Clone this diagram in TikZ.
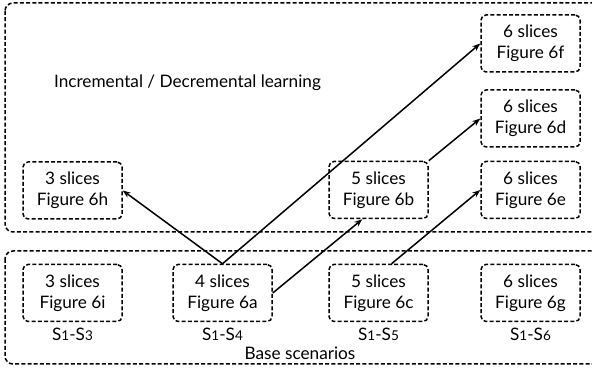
\documentclass[tikz,border=0pt]{standalone}
\usepackage{fontspec}
\setmainfont{Lato}
\usetikzlibrary{arrows.meta}
\newcommand{\sdig}[1]{{\fontsize{13.5}{13.5}\selectfont #1}}
\begin{document}
\begin{tikzpicture}[x=1pt,y=-1pt,
  every node/.style={font=\fontsize{17.2}{21}\selectfont},
  slice/.style={draw, line width=1.5pt, dash pattern=on 4pt off 2.2pt, rounded corners=5pt,
     minimum width=99pt, minimum height=57pt, inner sep=0pt, align=center},
  group/.style={draw, line width=1.5pt, dash pattern=on 4pt off 2.2pt, rounded corners=8pt},
  conn/.style={line width=1.5pt, -{Stealth[length=8pt,width=6pt]}}]
\useasboundingbox (0,0) rectangle (592,371);
\draw[group] (5,3) rectangle (610,232);
\draw[group] (5,251) rectangle (610,364);
\node (inc) at (187.5,83) {Incremental / Decremental learning};
\node (base) at (300,353) {Base scenarios};
\node[slice] (h) at (72.5,190.5) {3 slices\\Figure 6h};
\node[slice] (b) at (378.5,190) {5 slices\\Figure 6b};
\node[slice] (f) at (530.5,43.5) {6 slices\\Figure 6f};
\node[slice] (d) at (530.5,118.5) {6 slices\\Figure 6d};
\node[slice] (e) at (530.5,190) {6 slices\\Figure 6e};
\node[slice] (i) at (72.5,293) {3 slices\\Figure 6i};
\node[slice] (a) at (222.5,293) {4 slices\\Figure 6a};
\node[slice] (c) at (378.5,293) {5 slices\\Figure 6c};
\node[slice] (g) at (530.5,293) {6 slices\\Figure 6g};
\node (li) at (72.5,334) {S\sdig{1}-S\sdig{3}};
\node (la) at (222.5,334) {S\sdig{1}-S\sdig{4}};
\node (lc) at (378.5,334) {S\sdig{1}-S\sdig{5}};
\node (lg) at (530.5,334) {S\sdig{1}-S\sdig{6}};
\draw[conn] (a.north) -- (h.east);
\draw[conn] (a.north) -- (f.west);
\draw[conn] (a.east) -- (b.241);
\draw[conn] (b.north east) -- (d.west);
\draw[conn] (c.66) -- (e.west);
\end{tikzpicture}
\end{document}
